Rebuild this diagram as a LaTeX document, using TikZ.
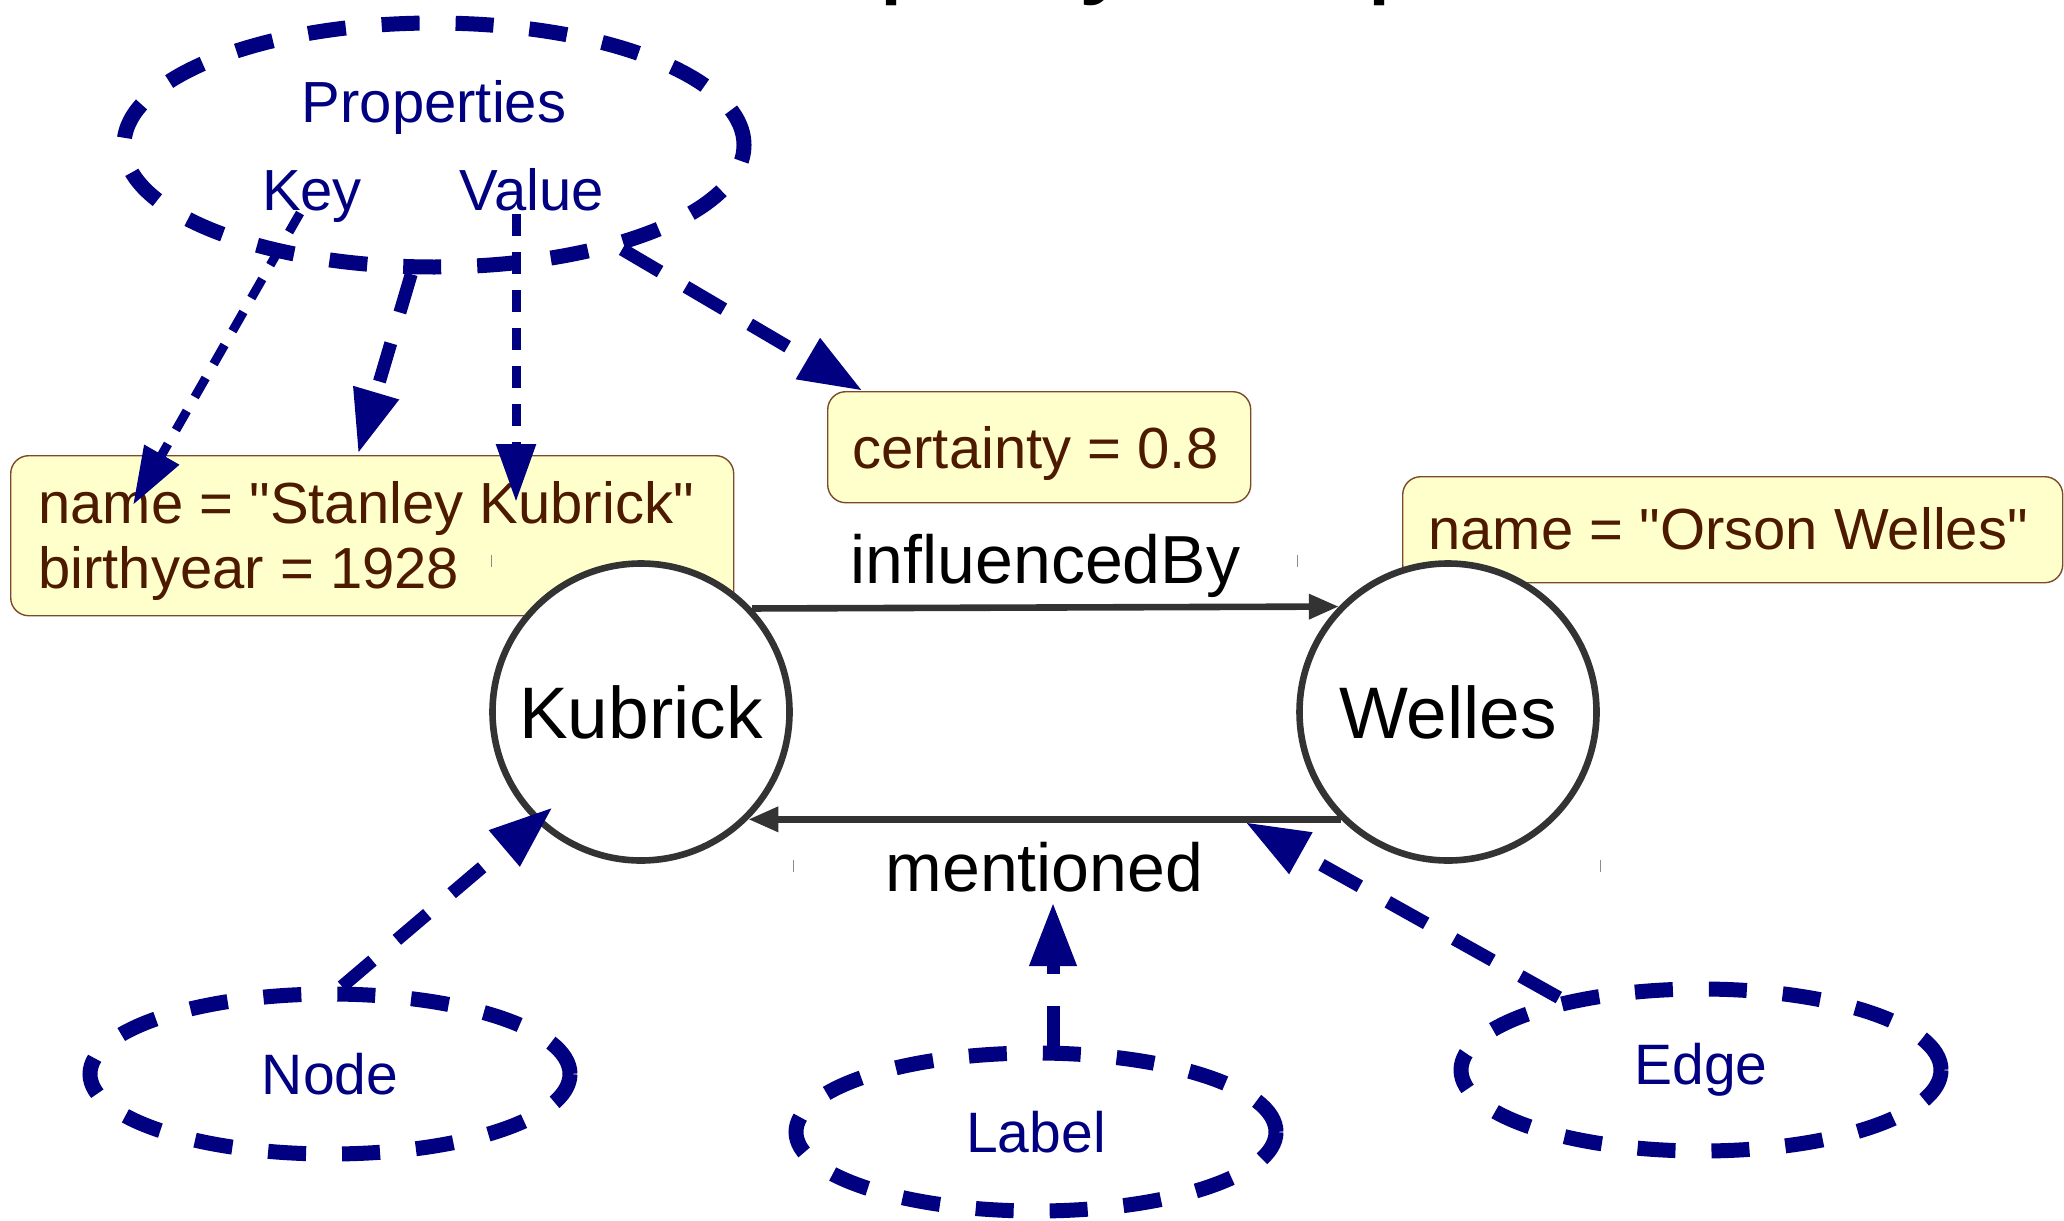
\documentclass[tikz,border=0pt]{standalone}
\usepackage{fontspec}
\setmainfont{Liberation Sans}[Ligatures=TeXOff]
\usetikzlibrary{arrows.meta,shapes.geometric}
\definecolor{cNavy}{HTML}{000080}
\definecolor{cEdge}{HTML}{333333}
\definecolor{cBoxFill}{HTML}{FFFFCC}
\definecolor{cBoxLine}{HTML}{7A4A2A}
\definecolor{cBoxText}{HTML}{4D1A00}
\begin{document}
\begin{tikzpicture}[x=0.5pt, y=-0.5pt,
  concept/.style={ellipse, draw=cNavy, line width=7.5pt, dash pattern=on 19pt off 18pt,
    inner sep=0pt, text=cNavy, font=\fontsize{28.5}{34}\selectfont},
  entity/.style={circle, draw=cEdge, fill=white, line width=3.3pt, minimum size=148.5pt,
    inner sep=0pt, font=\fontsize{36.5}{44}\selectfont},
  propbox/.style={draw=cBoxLine, fill=cBoxFill, line width=0.7pt, rounded corners=9pt,
    anchor=north west, inner sep=0pt},
  propline/.style={text=cBoxText, font=\fontsize{29}{35}\selectfont, anchor=base west, inner sep=0pt},
  conceptword/.style={text=cNavy, font=\fontsize{29}{35}\selectfont, anchor=base, inner sep=0pt},
  rel/.style={draw=cEdge, line width=3.3pt, -{Triangle[length=15pt,width=12pt]}},
  rellabel/.style={font=\fontsize{34}{40}\selectfont, anchor=base, inner sep=0pt, midway},
  pointer/.style={draw=cNavy, line width=6.5pt, dash pattern=on 20pt off 16pt,
    -{Triangle[length=32pt,width=22pt]}},
  thinpointer/.style={draw=cNavy, line width=4.5pt, dash pattern=on 11pt off 8pt,
    -{Triangle[length=29pt,width=19pt]}},
  tick/.style={draw=black!45, line width=0.5pt}
]
\useasboundingbox (0,0) rectangle (2064,1220);
\clip (0,0) rectangle (2064,1220);

% title, mostly above the page
\node[font=\fontsize{58.5}{60}\selectfont, anchor=base west, inner sep=0pt] (title) at (696,-18) {Property Graph};

% property boxes
\node[propbox, minimum width=361.5pt, minimum height=80pt] (KB) at (10,455) {};
\node[propline] (kb1) at (38,523) {name = "Stanley Kubrick"};
\node[propline] (kb2) at (38,588) {birthyear = 1928};
\node[propbox, minimum width=211.5pt, minimum height=55.5pt] (CB) at (827,391) {};
\node[propline] (cb1) at (852,468) {certainty = 0.8};
\node[propbox, minimum width=330pt, minimum height=53pt] (WB) at (1402,476) {};
\node[propline] (wb1) at (1428,549) {name = "Orson Welles"};

% the two entities
\node[entity] (K) at (641,712) {Kubrick};
\node[entity] (W) at (1448,712) {Welles};

% relationships
\draw[rel] (K.43.7) -- node[rellabel, yshift=12pt] (lblA) {influencedBy} (W.136.3);
\draw[rel] (W.225.3) -- node[rellabel, yshift=-36pt] (lblB) {mentioned} (K.-45.3);

% small marks around the relationship area
\draw[tick] (491,555) -- (491,567);
\draw[tick] (1297,555) -- (1297,567);
\draw[tick] (793,860) -- (793,872);
\draw[tick] (1600,860) -- (1600,872);

% concept ellipses
\node[concept, minimum width=310pt, minimum height=122pt] (P) at (434,145) {};
\node[conceptword] (ptitle) at (434,122) {Properties};
\node[conceptword] (pkey) at (312,210) {Key};
\node[conceptword] (pval) at (532,210) {Value};
\node[concept, minimum width=240pt, minimum height=80pt] (NE) at (330,1074) {Node};
\node[concept, minimum width=240pt, minimum height=79pt] (LE) at (1036,1132) {Label};
\node[concept, minimum width=240pt, minimum height=81pt] (EE) at (1701,1070) {Edge};

% pointer ends
\coordinate (keyfoot) at (300,213);
\coordinate (keytip) at (133,505);
\coordinate (valfoot) at (516,214);
\coordinate (valtip) at (516,502);
\coordinate (proptip) at (358,454);
\coordinate (nodetip) at (553,807);
\coordinate (labeltip) at (1053,902);
\coordinate (edgetip) at (1245,822);

% pointers
\draw[thinpointer] (keyfoot) -- (keytip);
\draw[thinpointer] (valfoot) -- (valtip);
\draw[pointer] (P.-100) -- (proptip);
\draw[pointer, dash pattern=on 22pt off 15pt] (P.-29) -- ([xshift=18pt]CB.north west);
\draw[pointer] ([xshift=6pt]NE.north) -- (nodetip);
\draw[pointer] ([xshift=8.5pt]LE.north) -- (labeltip);
\draw[pointer, dash pattern=on 22pt off 16pt] (EE.153) -- (edgetip);
\end{tikzpicture}
\end{document}
